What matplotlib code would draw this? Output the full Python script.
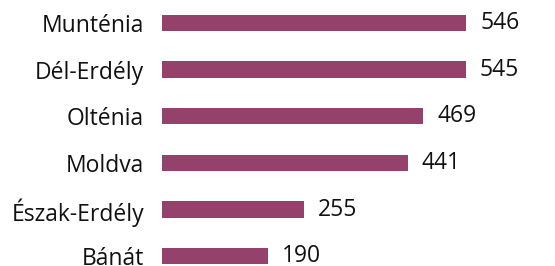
import matplotlib.pyplot as plt

regions = ["Munténia", "Dél-Erdély", "Olténia", "Moldva", "Észak-Erdély", "Bánát"]
values = [546, 545, 469, 441, 255, 190]

plt.rcParams["font.family"] = ["Open Sans", "DejaVu Sans"]

fig = plt.figure(figsize=(5.55, 2.66), dpi=100)
ax = fig.add_axes([162 / 555, 0, 1 - 162 / 555, 1])

bars = ax.barh(range(len(regions)), values, height=0.35, color="#94416b")
ax.bar_label(bars, labels=[str(v) for v in values], padding=10, fontsize=16.5, color="#111111")

ax.set_yticks(range(len(regions)))
ax.set_yticklabels(regions, fontsize=16.5, color="#111111")
ax.tick_params(axis="y", length=0, pad=13)
ax.set_xticks([])
ax.set_xlim(0, 705)
ax.set_ylim(5.21, -0.49)
for s in ax.spines.values():
    s.set_visible(False)

plt.savefig("out.png", dpi=100)
